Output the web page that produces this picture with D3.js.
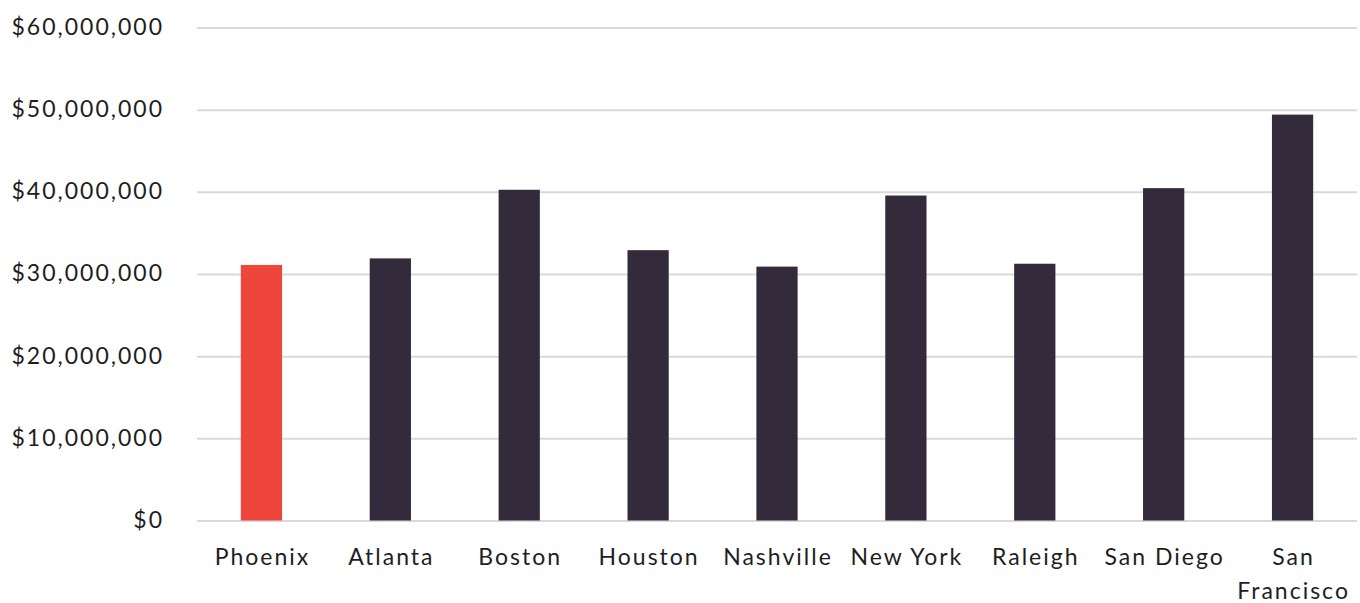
<!DOCTYPE html>
<html>
<head>
<meta charset="utf-8">
<script src="https://cdn.jsdelivr.net/npm/d3@7"></script>
<style>
  html, body { margin: 0; padding: 0; background: #fff; }
  svg { display: block; }
  text { font-family: Lato, "Noto Sans", sans-serif; fill: #1e1e1e; letter-spacing: 2px; }
</style>
</head>
<body>
<svg id="chart" width="1360" height="603"></svg>
<script>
const categories = ["Phoenix", "Atlanta", "Boston", "Houston", "Nashville", "New York", "Raleigh", "San Diego", "San Francisco"];
const values = [31100000, 31900000, 40250000, 32900000, 30900000, 39550000, 31250000, 40450000, 49400000];
const highlight = ["Phoenix"];
const yTicks = [0, 10000000, 20000000, 30000000, 40000000, 50000000, 60000000];

const svg = d3.select("#chart");
const margin = { left: 197, right: 3, top: 27.5, bottom: 82.5 };
const W = 1360, H = 603;

const x = d3.scaleBand().domain(categories).range([margin.left, W - margin.right]).paddingInner(0.68).paddingOuter(0.34);
const y = d3.scaleLinear().domain([0, 60000000]).range([H - margin.bottom, margin.top]);

const fmt = v => "$" + d3.format(",")(v);

// gridlines
const yAxis = d3.axisLeft(y).tickValues(yTicks).tickFormat(fmt).tickSize(-(W - margin.left - margin.right)).tickPadding(33);
const gy = svg.append("g").attr("transform", `translate(${margin.left},0)`).call(yAxis);
gy.select(".domain").remove();
gy.selectAll(".tick line").attr("stroke", "#d9d9d9").attr("stroke-width", 2);
gy.selectAll(".tick text").style("font-size", "23px").attr("fill", "#1e1e1e").attr("dy", "0.3em");

// bars
svg.append("g").selectAll("rect").data(categories).join("rect")
  .attr("x", d => x(d))
  .attr("width", x.bandwidth())
  .attr("y", (d, i) => y(values[i]))
  .attr("height", (d, i) => y(0) - y(values[i]))
  .attr("fill", d => highlight.includes(d) ? "#ef463c" : "#332a3b");

// x axis labels
const xAxis = d3.axisBottom(x).tickSize(0).tickPadding(28);
const gx = svg.append("g").attr("transform", `translate(0,${y(0)})`).call(xAxis);
gx.select(".domain").remove();
gx.selectAll(".tick text").style("font-size", "23px").attr("fill", "#1e1e1e").attr("dy", "0.71em").attr("dx", "1");

// wrap labels that are wider than the band step
gx.selectAll(".tick text").each(function() {
  const t = d3.select(this);
  const words = t.text().split(/\s+/);
  if (this.getComputedTextLength() <= x.step()) return;
  t.text(null);
  const yAttr = t.attr("y");
  words.forEach((w, i) => {
    t.append("tspan").attr("x", 0).attr("y", yAttr).attr("dx", "1").attr("dy", (0.71 + i * 1.48) + "em").text(w);
  });
});
</script>
</body>
</html>
